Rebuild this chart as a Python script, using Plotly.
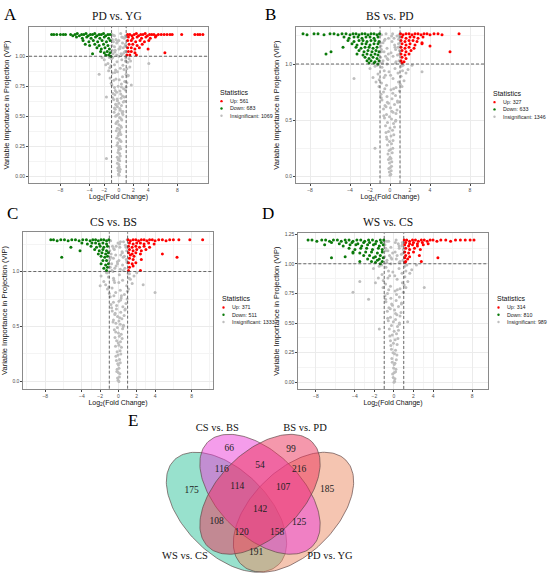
import numpy as np
import plotly.graph_objects as go

W, H = 550, 578
SANS = "Liberation Sans"
SERIF = "Liberation Serif"

# ---------------- data ----------------
x_tick_vals = [-8, -4, -2, 0, 2, 4, 8]

titles = ["PD vs. YG", "BS vs. PD", "CS vs. BS", "WS vs. CS"]
up_counts = [561, 327, 371, 314]
down_counts = [683, 633, 511, 810]
ns_counts = [1069, 1346, 1333, 989]

# panel A  (PD vs. YG)
A_up_x = [1.2, 1.5, 1.8, 2.1, 2.4, 2.7, 3.0, 3.3, 3.6, 3.9, 4.2, 4.5, 4.8, 5.1, 5.4, 5.8, 6.2, 6.6, 7.0, 7.3, 8.6, 10.4, 10.8, 11.1, 11.5,
          1.3, 1.9, 2.5, 3.1, 3.7, 4.3, 5.0,
          1.2, 1.7, 2.3, 2.9, 3.5, 4.1,
          1.4, 1.9, 2.5, 3.2,
          1.2, 1.7, 2.2, 2.8, 4.0,
          1.3, 1.7, 2.2, 6.3,
          1.1, 1.5, 2.4]
A_up_y = [1.18, 1.18, 1.17, 1.18, 1.19, 1.17, 1.18, 1.18, 1.19, 1.17, 1.18, 1.18, 1.18, 1.17, 1.18, 1.18, 1.18, 1.18, 1.18, 1.18, 1.18, 1.18, 1.18, 1.18, 1.18,
          1.16, 1.15, 1.16, 1.15, 1.16, 1.15, 1.16,
          1.13, 1.13, 1.12, 1.13, 1.12, 1.13,
          1.10, 1.10, 1.09, 1.10,
          1.07, 1.07, 1.06, 1.07, 1.06,
          1.04, 1.04, 1.03, 1.03,
          1.01, 1.01, 1.01]
A_down_x = [-9.2, -8.9, -8.5, -8.0, -7.6, -7.3, -6.6, -6.3, -6.0, -5.7, -5.4, -5.1, -4.8, -4.5, -4.2, -3.9, -3.6, -3.3, -3.0, -2.7, -2.4, -2.1, -1.8, -1.5, -1.2,
            -5.8, -5.0, -4.4, -3.8, -3.2, -2.6, -2.0, -1.4,
            -4.9, -4.1, -3.5, -2.9, -2.3, -1.7, -1.2,
            -4.6, -4.0, -3.3, -2.7, -2.1, -1.5,
            -3.0, -2.4, -1.9, -1.3,
            -3.6, -2.5, -2.0, -1.6, -1.2,
            -1.8, -1.4, -1.1]
A_down_y = [1.18, 1.18, 1.18, 1.18, 1.18, 1.18, 1.18, 1.17, 1.18, 1.19, 1.17, 1.18, 1.18, 1.19, 1.17, 1.18, 1.18, 1.19, 1.17, 1.18, 1.18, 1.19, 1.17, 1.18, 1.18,
            1.16, 1.15, 1.16, 1.15, 1.16, 1.15, 1.16, 1.15,
            1.13, 1.12, 1.13, 1.12, 1.13, 1.12, 1.13,
            1.10, 1.09, 1.10, 1.09, 1.10, 1.09,
            1.07, 1.06, 1.07, 1.06,
            1.02, 1.04, 1.03, 1.04, 1.03,
            1.01, 1.01, 1.00]
A_ns_x = [0.02, -0.05, 0.10, -0.08, -0.15, 0.05, 0.18, 0.00, -0.20, 0.12, -0.10,
          -0.22, 0.20, 0.02, 0.10, -0.12, -0.05, 0.25, 0.15, -0.25, 0.00,
          -0.15, 0.30, 0.05, -0.30, 0.20, -0.10, 0.28, 0.15, -0.35, 0.00,
          -0.20, 0.35, 0.10, 0.00, -0.40, 0.25, -0.15, 0.40, -0.30,
          0.10, -0.45, 0.30, -0.05, 0.45, -0.30, 0.20, -0.50, 0.55,
          -0.20, 0.35, -0.60, 0.00, 0.60, -0.45, -0.70, 0.30, -0.20,
          0.50, -0.55, 0.75, -0.30, 0.15, -0.80, 0.65, -0.60, 0.90,
          -0.95, 0.35, -0.10, 0.80, -0.70, 1.10, -1.20, 0.50, -0.40,
          1.00, -0.90, 1.30, -1.40, 0.70, -0.20,
          1.50, -1.10, 0.20, -1.80, -1.50, 1.20, -0.60, 0.90,
          -2.00, 1.60, -1.00, 0.40, -1.30, 1.40, -2.30, 0.00,
          -0.80, 0.70, -0.30, 0.30, -0.90, 0.85, 0.00, -0.50,
          -0.60, 0.60, -0.95, 0.20, -0.30, 0.90, -0.75, 0.50,
          -0.90, 0.00, 0.75, -0.40, -0.60, 0.40, -0.95, 0.90,
          -1.70, -1.70, 4.10, 1.70, -2.70,
          0.55, -0.65, 0.15, -0.35, 0.75, -0.85, 0.25, -0.50, 1.00, -1.05,
          0.05, 1.20, -0.55, 1.10, -1.25, 0.55, -0.25, 0.95, -0.85, 0.45,
          -0.55, 0.15, 0.85, -0.15, 0.55, -0.75, 0.25, -0.45, 0.35, -0.25]
A_ns_y = [0.01, 0.02, 0.04, 0.05, 0.07, 0.08, 0.06, 0.10, 0.11, 0.13, 0.14,
          0.16, 0.17, 0.15, 0.19, 0.20, 0.22, 0.23, 0.25, 0.26, 0.24,
          0.28, 0.29, 0.31, 0.32, 0.30, 0.34, 0.35, 0.37, 0.38, 0.36,
          0.40, 0.41, 0.39, 0.43, 0.44, 0.42, 0.46, 0.47, 0.45,
          0.49, 0.50, 0.48, 0.52, 0.53, 0.51, 0.55, 0.56, 0.54,
          0.58, 0.59, 0.57, 0.61, 0.62, 0.60, 0.64, 0.65, 0.63,
          0.67, 0.68, 0.66, 0.70, 0.71, 0.69, 0.73, 0.74, 0.72,
          0.76, 0.77, 0.75, 0.79, 0.80, 0.78, 0.82, 0.83, 0.81,
          0.85, 0.86, 0.84, 0.88, 0.89, 0.87,
          0.91, 0.92, 0.90, 0.93, 0.94, 0.95, 0.93, 0.96,
          0.97, 0.96, 0.98, 0.97, 0.99, 0.98, 0.99, 1.00,
          1.02, 1.03, 1.01, 1.02, 1.05, 1.04, 1.06, 1.05,
          1.08, 1.07, 1.09, 1.08, 1.11, 1.10, 1.12, 1.11,
          1.14, 1.13, 1.15, 1.14, 1.17, 1.16, 1.18, 1.17,
          0.66, 0.15, 0.94, 0.76, 0.85,
          0.515, 0.535, 0.565, 0.595, 0.625, 0.655, 0.685, 0.715, 0.745, 0.775,
          0.805, 0.835, 0.865, 0.895, 0.905, 0.925, 0.955, 0.985, 0.99, 1.015,
          1.035, 1.065, 1.085, 1.125, 1.155, 1.175, 1.19, 0.885, 0.745, 0.645]

# panel B  (BS vs. PD)
B_up_x = [1.05, 1.3, 1.6, 1.9, 2.2, 2.5, 2.8, 3.1, 3.4, 3.7, 4.0, 4.4, 4.8, 5.2, 6.9,
          1.2, 1.6, 2.0, 2.4, 2.8, 3.3,
          1.1, 1.5, 1.9, 2.3, 2.7, 3.2,
          1.2, 1.6, 2.0, 2.5, 3.2,
          1.1, 1.5, 1.9, 2.4, 4.0,
          1.2, 1.6, 2.1, 6.0,
          1.1, 1.5, 1.9,
          1.2, 1.6,
          1.1, 1.4,
          1.2]
B_up_y = [1.27, 1.26, 1.27, 1.27, 1.26, 1.27, 1.27, 1.26, 1.27, 1.27, 1.26, 1.27, 1.27, 1.26, 1.27,
          1.24, 1.23, 1.24, 1.24, 1.23, 1.24,
          1.21, 1.20, 1.21, 1.21, 1.20, 1.19,
          1.18, 1.17, 1.18, 1.17, 1.18,
          1.15, 1.14, 1.15, 1.14, 1.16,
          1.12, 1.11, 1.12, 1.11,
          1.09, 1.08, 1.09,
          1.06, 1.05,
          1.03, 1.02,
          1.01]
B_down_x = [-8.7, -8.3, -7.6, -7.2, -6.6, -6.0, -5.6, -5.2, -4.8, -4.4, -4.0, -3.7, -3.4, -3.1, -2.8, -2.5, -2.2, -1.9, -1.6, -1.3, -1.05,
            -4.6, -4.1, -3.6, -3.2, -2.8, -2.4, -2.0, -1.6, -1.2,
            -4.2, -3.6, -3.1, -2.7, -2.3, -1.9, -1.5, -1.1,
            -3.8, -3.3, -2.8, -2.4, -2.0, -1.6, -1.2,
            -4.7, -3.4, -2.9, -2.5, -2.1, -1.7, -1.3,
            -5.9, -3.1, -2.6, -2.2, -1.8, -1.4, -1.1,
            -6.4, -3.3, -2.7, -2.3, -1.9, -1.5, -1.2,
            -2.5, -2.1, -1.7, -1.3,
            -2.3, -1.9, -1.5, -1.1,
            -2.1, -1.6, -1.2]
B_down_y = [1.27, 1.26, 1.27, 1.27, 1.26, 1.27, 1.27, 1.26, 1.27, 1.27, 1.26, 1.27, 1.27, 1.26, 1.27, 1.27, 1.26, 1.27, 1.27, 1.26, 1.27,
            1.24, 1.23, 1.24, 1.24, 1.23, 1.24, 1.24, 1.23, 1.24,
            1.21, 1.20, 1.21, 1.21, 1.20, 1.21, 1.21, 1.20,
            1.18, 1.17, 1.18, 1.18, 1.17, 1.18, 1.18,
            1.15, 1.15, 1.14, 1.15, 1.15, 1.14, 1.15,
            1.11, 1.12, 1.11, 1.12, 1.11, 1.12, 1.11,
            1.09, 1.09, 1.08, 1.09, 1.08, 1.09, 1.08,
            1.06, 1.05, 1.06, 1.05,
            1.03, 1.03, 1.02, 1.03,
            1.01, 1.01, 1.00]
B_ns_x = [0.00, 0.08, -0.06, 0.12, 0.03, -0.12, 0.15, -0.05, 0.18, 0.10, -0.15, 0.00,
          -0.20, 0.22, 0.05, -0.10, 0.28, -1.50, -0.25, 0.15, 0.30, -0.05, -0.30,
          0.10, -0.35, 0.38, -0.15, 0.25, -0.40, 0.45, 0.00, -0.45,
          -0.25, 0.35, 0.55, -0.55, 0.15, -0.05, 0.60, -0.35, 0.30,
          -0.65, 0.05, 0.70, 0.45, -0.50, -0.15, -0.80, 0.75, 0.20,
          0.55, -0.30, -0.90, 0.95, -0.65, 0.10,
          -1.10, 0.60, -0.35, 1.20, 0.85, -0.85, 1.40, -1.40,
          -1.70, 0.30, 1.10, -0.60, -3.60, 1.60, -1.20, -0.10, 0.80, 3.20,
          -2.00, 1.80, -0.80, 0.50, 1.30, -1.50, 2.20, -0.30,
          -0.70, 0.60, -0.20, 0.90, 0.30, -0.95, 0.75, -0.45,
          -0.60, 0.10, 0.95, -0.85, 0.50, -0.30, -0.90, 0.80,
          -0.70, 0.85, 0.20, -0.95, 0.40, -0.50, 0.95, -0.15,
          -0.85, 0.70, -0.40, 0.90,
          0.58, -0.62, 0.18, -0.40, 0.78, -0.88, 0.28, -0.52, 1.02, -1.08,
          0.06, 1.25, -0.58, 1.12, -1.28, 0.56, -0.28, 0.96, -0.86, 0.46,
          -0.56, 0.16, 0.86, -0.16, 0.56, -0.76, 0.26, -0.46, 0.36, -0.26]
B_ns_y = [0.01, 0.02, 0.04, 0.05, 0.08, 0.07, 0.09, 0.12, 0.13, 0.16, 0.15, 0.17,
          0.20, 0.21, 0.24, 0.23, 0.25, 0.25, 0.28, 0.29, 0.32, 0.31, 0.33,
          0.36, 0.35, 0.37, 0.40, 0.41, 0.39, 0.44, 0.43, 0.45,
          0.48, 0.47, 0.49, 0.52, 0.51, 0.53, 0.56, 0.55, 0.57,
          0.60, 0.61, 0.59, 0.64, 0.63, 0.65, 0.68, 0.67, 0.69,
          0.72, 0.71, 0.73, 0.76, 0.75, 0.77,
          0.80, 0.79, 0.81, 0.80, 0.84, 0.83, 0.85, 0.84,
          0.88, 0.87, 0.89, 0.88, 0.87, 0.92, 0.91, 0.93, 0.92, 0.93,
          0.96, 0.95, 0.97, 0.96, 0.99, 0.98, 0.99, 1.00,
          1.03, 1.02, 1.04, 1.03, 1.07, 1.06, 1.08, 1.07,
          1.11, 1.10, 1.12, 1.11, 1.15, 1.14, 1.16, 1.15,
          1.19, 1.18, 1.20, 1.19, 1.23, 1.22, 1.24, 1.23,
          1.26, 1.25, 1.27, 1.26,
          0.50, 0.54, 0.58, 0.62, 0.66, 0.70, 0.74, 0.78, 0.82, 0.86,
          0.90, 0.94, 0.94, 0.98, 0.99, 1.01, 1.05, 1.09, 1.13, 1.17,
          1.21, 1.25, 1.22, 1.09, 1.13, 1.01, 1.27, 0.90, 0.78, 0.66]

# panel C  (CS vs. BS)
C_up_x = [1.05, 1.3, 1.6, 1.9, 2.2, 2.5, 2.8, 3.1, 3.4, 3.7, 4.0, 4.4, 4.8, 5.2, 5.6, 6.0, 6.6, 7.8, 9.2,
          1.2, 1.6, 2.0, 2.4, 2.8, 3.3, 3.9,
          1.1, 1.5, 1.9, 2.3, 2.8, 3.4,
          1.2, 1.6, 2.0, 2.5, 3.0,
          1.1, 1.5, 1.9, 2.4,
          1.3, 1.7, 4.8,
          1.2, 1.6, 2.5, 6.4,
          1.1, 1.5, 1.9,
          1.2, 1.6,
          1.1, 2.4]
C_up_y = [1.29, 1.28, 1.29, 1.29, 1.28, 1.29, 1.29, 1.28, 1.29, 1.29, 1.28, 1.29, 1.29, 1.28, 1.29, 1.29, 1.29, 1.29, 1.29,
          1.26, 1.25, 1.26, 1.26, 1.25, 1.26, 1.25,
          1.23, 1.22, 1.23, 1.22, 1.23, 1.22,
          1.20, 1.19, 1.20, 1.19, 1.20,
          1.17, 1.16, 1.17, 1.16,
          1.15, 1.14, 1.16,
          1.12, 1.11, 1.11, 1.13,
          1.08, 1.07, 1.08,
          1.04, 1.05,
          1.01, 1.01]
C_down_x = [-7.4, -7.1, -6.7, -6.3, -5.9, -5.5, -5.1, -4.7, -4.3, -3.9, -3.5, -3.1, -2.8, -2.5, -2.2, -1.9, -1.6, -1.3, -1.05,
            -4.0, -3.4, -2.9, -2.5, -2.1, -1.7, -1.3,
            -5.2, -3.0, -2.4, -2.0, -1.6, -1.2,
            -4.2, -2.6, -2.1, -1.7, -1.3,
            -2.2, -1.8, -1.4, -1.1,
            -6.2, -1.9, -1.5, -1.2,
            -1.7, -1.3,
            -1.9, -1.4, -1.1,
            -1.6, -1.2,
            -1.3]
C_down_y = [1.29, 1.29, 1.28, 1.29, 1.29, 1.28, 1.29, 1.29, 1.28, 1.29, 1.29, 1.28, 1.29, 1.29, 1.28, 1.29, 1.29, 1.28, 1.29,
            1.26, 1.25, 1.26, 1.26, 1.25, 1.26, 1.25,
            1.22, 1.23, 1.22, 1.23, 1.22, 1.23,
            1.19, 1.20, 1.19, 1.20, 1.19,
            1.16, 1.17, 1.16, 1.17,
            1.13, 1.14, 1.13, 1.14,
            1.10, 1.10,
            1.07, 1.06, 1.07,
            1.03, 1.04,
            1.01]
C_ns_x = [0.05, -0.04, 0.10, -0.10, -0.02, 0.16, -0.18, 0.06, -0.14, -0.08, 0.20, 0.00,
          0.12, -0.22, -0.05, 0.26, -0.28, 0.18, -0.15, -0.32, 0.05, 0.32,
          0.22, -0.20, -0.02, -0.38, 0.40, 0.10, 0.00, -0.30, 0.30,
          0.45, -0.45, -0.12, 0.20, -0.28, 0.55, -0.55, 0.05, 0.38,
          0.62, -0.40, -0.10, -0.68, 0.25, 0.70, 0.48, -0.20, -0.75,
          -0.55, 0.82, 0.05, 0.30, -0.90, 0.95,
          -1.00, 0.65, -0.30, 4.00, 1.10, -0.70, 0.20, -1.20,
          -1.40, 0.90, -2.00, 2.70, 1.50, -0.50, 1.30, -1.60, 0.45,
          1.70, -1.10, 0.10, -1.90, -1.30, 1.20, -0.60, 2.00,
          0.70, -0.90, 0.20, -0.40, -0.75, 0.45, 0.95, -0.10,
          0.85, -0.55, 0.05, -0.95, -0.30, 0.65, -0.80, 0.25,
          0.90, -0.45, 0.40, -0.95, -0.65, 0.15, 0.75, -0.25,
          0.55, -0.85, -0.05, 0.95,
          0.52, -0.60, 0.14, -0.36, 0.74, -0.82, 0.24, -0.50, 0.98, -1.05,
          0.04, 1.18, -0.54, 1.06, -1.22, 0.52, -0.26, 0.92, -0.82, 0.42,
          -0.52, 0.12, 0.82, -0.12, 0.52, -0.72, 0.22, -0.42, 0.32, -0.22]
C_ns_y = [0.00, 0.01, 0.04, 0.03, 0.08, 0.07, 0.09, 0.12, 0.11, 0.16, 0.17, 0.15,
          0.20, 0.19, 0.24, 0.25, 0.23, 0.28, 0.27, 0.32, 0.33, 0.31,
          0.36, 0.37, 0.35, 0.40, 0.39, 0.41, 0.44, 0.45, 0.43,
          0.48, 0.47, 0.49, 0.52, 0.53, 0.51, 0.56, 0.55, 0.57,
          0.60, 0.61, 0.59, 0.64, 0.63, 0.65, 0.68, 0.69, 0.67,
          0.72, 0.71, 0.73, 0.76, 0.77, 0.75,
          0.80, 0.79, 0.81, 0.81, 0.84, 0.85, 0.83, 0.84,
          0.88, 0.87, 0.87, 0.88, 0.89, 0.92, 0.93, 0.91, 0.92,
          0.96, 0.95, 0.97, 0.96, 0.99, 0.98, 1.00, 0.99,
          1.03, 1.04, 1.02, 1.03, 1.07, 1.06, 1.08, 1.07,
          1.11, 1.12, 1.10, 1.11, 1.15, 1.14, 1.16, 1.15,
          1.19, 1.20, 1.18, 1.19, 1.23, 1.22, 1.24, 1.23,
          1.27, 1.28, 1.26, 1.29,
          0.50, 0.54, 0.58, 0.62, 0.66, 0.70, 0.74, 0.78, 0.82, 0.86,
          0.90, 0.94, 0.94, 0.98, 0.99, 1.01, 1.05, 1.09, 1.13, 1.17,
          1.21, 1.25, 1.22, 1.09, 1.13, 1.01, 1.27, 0.90, 0.78, 0.66]

# panel D  (WS vs. CS)
D_up_x = [1.05, 1.3, 1.6, 1.9, 2.2, 2.5, 2.8, 3.1, 3.4, 3.7, 4.0, 4.4, 4.8, 5.3, 5.8, 6.3, 6.8, 7.3, 7.8, 8.2,
          1.2, 1.6, 2.0, 2.4, 2.9, 3.5,
          1.1, 1.5, 1.9, 2.4, 3.0,
          1.2, 1.6, 2.1, 2.7,
          1.1, 1.5, 2.0,
          1.2, 1.6, 2.6,
          1.1, 1.4, 4.5,
          1.2, 2.8,
          1.1]
D_up_y = [1.20, 1.20, 1.19, 1.20, 1.20, 1.19, 1.20, 1.20, 1.19, 1.20, 1.20, 1.19, 1.20, 1.20, 1.19, 1.20, 1.20, 1.20, 1.20, 1.20,
          1.18, 1.17, 1.18, 1.17, 1.18, 1.17,
          1.16, 1.15, 1.16, 1.15, 1.16,
          1.13, 1.12, 1.13, 1.12,
          1.10, 1.09, 1.10,
          1.07, 1.06, 1.07,
          1.05, 1.04, 1.05,
          1.02, 1.02,
          1.01]
D_down_x = [-8.8, -8.4, -7.9, -7.4, -7.0, -6.6, -6.2, -5.8, -5.4, -5.0, -4.6, -4.2, -3.8, -3.4, -3.0, -2.6, -2.2, -1.8, -1.4, -1.05,
            -6.4, -5.6, -4.9, -4.3, -3.7, -3.1, -2.5, -1.9, -1.3,
            -7.1, -5.2, -4.5, -3.9, -3.3, -2.7, -2.1, -1.5, -1.1,
            -4.6, -4.0, -3.4, -2.8, -2.2, -1.6, -1.2,
            -4.2, -3.5, -2.9, -2.3, -1.7, -1.2,
            -5.0, -3.1, -2.5, -1.9, -1.4,
            -6.4, -4.2, -2.7, -2.1, -1.5, -1.1,
            -3.5, -2.3, -1.7, -1.2,
            -1.9, -1.4]
D_down_y = [1.20, 1.20, 1.19, 1.20, 1.20, 1.19, 1.20, 1.20, 1.19, 1.20, 1.20, 1.19, 1.20, 1.20, 1.19, 1.20, 1.20, 1.19, 1.20, 1.20,
            1.18, 1.17, 1.18, 1.18, 1.17, 1.18, 1.18, 1.17, 1.18,
            1.16, 1.15, 1.16, 1.16, 1.15, 1.16, 1.16, 1.15, 1.16,
            1.13, 1.12, 1.13, 1.13, 1.12, 1.13, 1.12,
            1.10, 1.09, 1.10, 1.10, 1.09, 1.10,
            1.06, 1.07, 1.07, 1.06, 1.07,
            1.05, 1.09, 1.04, 1.05, 1.04, 1.05,
            1.02, 1.02, 1.03, 1.02,
            1.01, 1.00]
D_ns_x = [0.00, 0.06, -0.08, 0.10, 0.02, -0.14, 0.16, -0.04, 0.20, 0.10, -0.18, 0.02,
          -0.22, 0.24, 0.06, -0.10, 0.30, -0.26, 0.16, 0.32, -0.06, -0.32,
          0.12, -0.36, 0.40, -0.18, 0.26, -0.42, 0.46, 0.02, -0.48, -1.50,
          -0.26, 0.36, 0.55, -0.58, 0.16, -0.06, 1.40, 0.62, -0.36, 0.30,
          -0.68, 0.06, 0.72, 0.46, -0.52, -0.16, -0.82, 0.78, 0.22,
          0.56, -0.32, -0.92, -2.60, 0.96, -0.66, 0.12, -4.20,
          -1.12, 0.62, -0.36, 1.22, 3.10, 0.86, -0.86, 1.42, -1.90, -3.50,
          -1.60, 0.32, 1.12, -0.62, 1.62, -1.22, -0.12, 0.82,
          -2.10, 1.82, -0.82, 0.52, 1.32, -1.52, 2.30, -0.32,
          -0.72, 0.62, -0.22, 0.92, 0.32, -0.96, 0.76, -0.46,
          -0.62, 0.12, 0.96, -0.86, 0.52, -0.32, -0.92, 0.82,
          -0.72, 0.86, 0.22, -0.96,
          0.56, -0.64, 0.16, -0.38, 0.76, -0.86, 0.26, -0.54, 1.04, -1.10,
          0.08, 1.22, -0.56, 1.10, -1.26, 0.54, -0.30, 0.94, -0.84, 0.44,
          -0.54, 0.14, 0.84, -0.14, 0.54, -0.74, 0.24, -0.44, 0.34, -0.24]
D_ns_y = [0.00, 0.01, 0.04, 0.03, 0.08, 0.07, 0.09, 0.12, 0.11, 0.16, 0.17, 0.15,
          0.20, 0.19, 0.24, 0.25, 0.23, 0.28, 0.27, 0.32, 0.33, 0.31,
          0.36, 0.35, 0.37, 0.40, 0.41, 0.39, 0.44, 0.43, 0.45, 0.45,
          0.48, 0.47, 0.49, 0.52, 0.53, 0.51, 0.51, 0.56, 0.55, 0.57,
          0.60, 0.61, 0.59, 0.64, 0.63, 0.65, 0.68, 0.67, 0.69,
          0.72, 0.71, 0.73, 0.70, 0.76, 0.75, 0.77, 0.76,
          0.80, 0.79, 0.81, 0.80, 0.80, 0.84, 0.83, 0.85, 0.84, 0.85,
          0.88, 0.87, 0.89, 0.88, 0.92, 0.91, 0.93, 0.92,
          0.96, 0.95, 0.97, 0.96, 0.99, 0.98, 0.99, 1.00,
          1.03, 1.02, 1.04, 1.03, 1.07, 1.06, 1.08, 1.07,
          1.11, 1.10, 1.12, 1.11, 1.15, 1.14, 1.16, 1.15,
          1.19, 1.18, 1.20, 1.19,
          0.50, 0.54, 0.58, 0.62, 0.66, 0.70, 0.74, 0.78, 0.82, 0.86,
          0.90, 0.94, 0.94, 0.98, 0.99, 1.01, 1.05, 1.09, 1.13, 1.17,
          1.19, 1.18, 1.16, 1.09, 1.13, 1.01, 1.04, 0.90, 0.78, 0.66]

# Venn diagram (E)
venn_sets = ["WS vs. CS", "CS vs. BS", "BS vs. PD", "PD vs. YG"]
venn_counts = [175, 66, 99, 185, 116, 54, 216, 114, 107, 142, 108, 125, 120, 158, 191]

# ---------------- layout helpers ----------------
def dom_x(x0, x1):
    return [x0 / W, x1 / W]


def dom_y(y0, y1):
    return [1 - y1 / H, 1 - y0 / H]


def px(x, y):
    return x / W, 1 - y / H


# pixel boxes (left, top, right, bottom), axis ranges and ticks per panel
panels = [
    dict(box=(29, 25, 208, 181.7), xr=[-12.3, 12.2], yr=[-0.055, 1.244],
         yt=[0, 0.25, 0.5, 0.75, 1.0], ym=[0.125, 0.375, 0.625, 0.875, 1.125], fmt=".2f",
         title_xy=(117, 14), letter="A", letter_xy=(10, 13), leg_xy=(218, 91),
         data=(A_up_x, A_up_y, A_down_x, A_down_y, A_ns_x, A_ns_y)),
    dict(box=(296, 25, 484, 182), xr=[-9.4, 9.4], yr=[-0.062, 1.33],
         yt=[0, 0.5, 1.0], ym=[0.25, 0.75, 1.25], fmt=".1f",
         title_xy=(390, 14), letter="B", letter_xy=(270, 13), leg_xy=(491, 92),
         data=(B_up_x, B_up_y, B_down_x, B_down_y, B_ns_x, B_ns_y)),
    dict(box=(23.3, 231, 212.7, 388), xr=[-10.4, 10.3], yr=[-0.066, 1.358],
         yt=[0, 0.5, 1.0], ym=[0.25, 0.75, 1.25], fmt=".1f",
         title_xy=(113, 221), letter="C", letter_xy=(12, 212), leg_xy=(220, 298),
         data=(C_up_x, C_up_y, C_down_x, C_down_y, C_ns_x, C_ns_y)),
    dict(box=(298.3, 232, 487.7, 388.3), xr=[-9.8, 9.6], yr=[-0.056, 1.258],
         yt=[0, 0.25, 0.5, 0.75, 1.0, 1.25], ym=[0.125, 0.375, 0.625, 0.875, 1.125], fmt=".2f",
         title_xy=(388, 221), letter="D", letter_xy=(268, 212), leg_xy=(495, 298),
         data=(D_up_x, D_up_y, D_down_x, D_down_y, D_ns_x, D_ns_y)),
]

RED = "#FF0000"
GREEN = "#0B7A0B"
GREY = "#BEBEBE"

fig = go.Figure()
layout = dict(width=W, height=H, margin=dict(l=0, r=0, t=0, b=0),
              paper_bgcolor="white", plot_bgcolor="white", showlegend=False)
annotations = []
shapes = []


def note(text, x, y, size, family=SANS, color="#111", xanchor="center"):
    ax, ay = px(x, y)
    annotations.append(dict(text=text, x=ax, y=ay, xref="paper", yref="paper", showarrow=False,
                            xanchor=xanchor, yanchor="middle",
                            font=dict(family=family, size=size, color=color)))


for i, p in enumerate(panels):
    n = "" if i == 0 else str(i + 1)
    xa, ya = "x" + n, "y" + n
    up_x, up_y, dn_x, dn_y, ns_x, ns_y = p["data"]

    fig.add_trace(go.Scatter(x=ns_x, y=ns_y, mode="markers", xaxis=xa, yaxis=ya,
                             marker=dict(size=3, color=GREY), name="Insignificant: %d" % ns_counts[i]))
    fig.add_trace(go.Scatter(x=dn_x, y=dn_y, mode="markers", xaxis=xa, yaxis=ya,
                             marker=dict(size=3, color=GREEN), name="Down: %d" % down_counts[i]))
    fig.add_trace(go.Scatter(x=up_x, y=up_y, mode="markers", xaxis=xa, yaxis=ya,
                             marker=dict(size=3, color=RED), name="Up: %d" % up_counts[i]))

    x0, y0, x1, y1 = p["box"]
    axis_common = dict(showline=True, mirror=True, linecolor="#8a8a8a", linewidth=0.8,
                       showgrid=True, gridcolor="#EBEBEB", gridwidth=0.6, zeroline=False,
                       ticks="outside", ticklen=2, tickwidth=0.6, tickcolor="#444",
                       tickfont=dict(family=SANS, size=5, color="#4D4D4D"))
    layout["xaxis" + n] = dict(axis_common, domain=dom_x(x0, x1), anchor=ya, range=p["xr"],
                               tickmode="array", tickvals=x_tick_vals,
                               minor=dict(tickmode="array", tickvals=[-10, -6, -3, -1, 1, 3, 6, 10],
                                          showgrid=True, gridcolor="#F4F4F4", gridwidth=0.5),
                               title=dict(text="Log<sub>2</sub>(Fold Change)", standoff=0,
                                          font=dict(family=SANS, size=7, color="#111")))
    layout["yaxis" + n] = dict(axis_common, domain=dom_y(y0, y1), anchor=xa, range=p["yr"],
                               tickmode="array", tickvals=p["yt"], tickformat=p["fmt"],
                               minor=dict(tickmode="array", tickvals=p["ym"],
                                          showgrid=True, gridcolor="#F4F4F4", gridwidth=0.5),
                               title=dict(text="Variable Importance in Projection (VIP)", standoff=4,
                                          font=dict(family=SANS, size=7.5, color="#111")))

    # legend ("Statistics") drawn next to each panel
    lx, ly = p["leg_xy"]
    note("Statistics", lx, ly, 7, xanchor="left")
    legend_rows = [("Up: %d" % up_counts[i], RED), ("Down: %d" % down_counts[i], GREEN),
                   ("Insignificant: %d" % ns_counts[i], GREY)]
    for k, (label, col) in enumerate(legend_rows):
        yy = ly + 8.5 + 7.3 * k
        note(label, lx + 9.5, yy, 5.3, color="#222", xanchor="left")
        cx, cy = px(lx + 3.5, yy)
        r = 1.2
        shapes.append(dict(type="circle", xref="paper", yref="paper",
                           x0=cx - r / W, x1=cx + r / W, y0=cy - r / H, y1=cy + r / H,
                           fillcolor=col, line=dict(width=0)))

    # threshold lines
    dash = dict(color="#444", width=0.8, dash="3px,2px")
    for xv in (-1, 1):
        shapes.append(dict(type="line", xref=xa, yref=ya + " domain", x0=xv, x1=xv, y0=0, y1=1, line=dash))
    shapes.append(dict(type="line", xref=xa + " domain", yref=ya, x0=0, x1=1, y0=1, y1=1, line=dash))

    tx, ty = p["title_xy"]
    note(titles[i], tx, ty, 11.5, family=SERIF)
    lx2, ly2 = p["letter_xy"]
    note(p["letter"], lx2, ly2, 17, family=SERIF, color="#000")

# ---------------- Venn (E) ----------------
def ellipse(cx, cy, a, b, ang, n=160):
    t = np.linspace(0, 2 * np.pi, n)
    th = np.radians(ang)
    return (cx + a * np.cos(t) * np.cos(th) - b * np.sin(t) * np.sin(th),
            cy + a * np.cos(t) * np.sin(th) + b * np.sin(t) * np.cos(th))


venn_shapes = [  # centre x, centre y, semi-axes, rotation (screen pixels)
    (226.5, 512, 74, 42, 45),
    (260, 494, 74, 42, 45),
    (260, 494, 74, 42, -45),
    (293.5, 512, 74, 42, -45),
]
venn_fill = ["rgba(50,195,155,0.5)", "rgba(235,60,215,0.5)",
             "rgba(235,50,90,0.5)", "rgba(235,140,100,0.5)"]

for k in (0, 3, 1, 2):  # draw order: green, orange, pink, red
    cx, cy, a, b, ang = venn_shapes[k]
    ex, ey = ellipse(cx, cy, a, b, ang)
    fig.add_trace(go.Scatter(x=ex, y=ey, mode="lines", fill="toself", fillcolor=venn_fill[k],
                             line=dict(color="rgba(95,70,70,0.85)", width=0.8),
                             xaxis="x5", yaxis="y5", hoverinfo="skip", name=venn_sets[k]))

count_x = [191.7, 229.3, 291, 327, 221.7, 260, 299, 237.3, 283, 260, 216.7, 299, 241.7, 277, 256]
count_y = [490, 448.5, 449, 489, 469.3, 465, 469, 486.7, 487, 509, 521.7, 522, 532.7, 532, 553]
fig.add_trace(go.Scatter(x=count_x, y=count_y, mode="text", text=[str(c) for c in venn_counts],
                         textfont=dict(family=SERIF, size=9.5, color="#222"),
                         xaxis="x5", yaxis="y5", hoverinfo="skip"))

set_x = [185, 217.3, 305, 330]
set_y = [556, 427.5, 427.5, 556]
fig.add_trace(go.Scatter(x=set_x, y=set_y, mode="text", text=venn_sets,
                         textfont=dict(family=SERIF, size=10.5, color="#111"),
                         xaxis="x5", yaxis="y5", hoverinfo="skip"))

layout["xaxis5"] = dict(domain=dom_x(150, 370), range=[150, 370], visible=False, anchor="y5")
layout["yaxis5"] = dict(domain=dom_y(420, 578), range=[578, 420], visible=False, anchor="x5")

note("E", 133, 420, 17, family=SERIF, color="#000")

layout["annotations"] = annotations
layout["shapes"] = shapes
fig.update_layout(**layout)

fig.write_html("out.html", config={"displayModeBar": False},
               post_script="document.body.style.margin='0';document.body.style.overflow='hidden';")
